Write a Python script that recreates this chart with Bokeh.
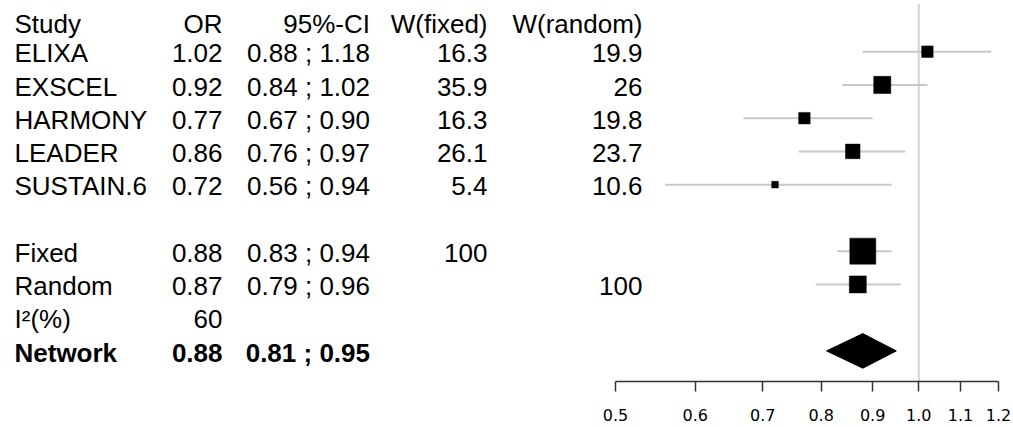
import math
from bokeh.plotting import figure
from bokeh.models import Range1d, FixedTicker, NumeralTickFormatter, Span
from bokeh.core.properties import value
from bokeh.embed import file_html
from bokeh.resources import INLINE

# ---------------- data ----------------
studies = ["ELIXA", "EXSCEL", "HARMONY", "LEADER", "SUSTAIN.6"]
study_or = [1.02, 0.92, 0.77, 0.86, 0.72]
study_lo = [0.88, 0.84, 0.67, 0.76, 0.56]
study_hi = [1.18, 1.02, 0.90, 0.97, 0.94]
w_fixed = [16.3, 35.9, 16.3, 26.1, 5.4]
w_random = [19.9, 26, 19.8, 23.7, 10.6]

pooled_labels = ["Fixed", "Random"]
pooled_or = [0.88, 0.87]
pooled_lo = [0.83, 0.79]
pooled_hi = [0.94, 0.96]
pooled_w_fixed = [100, None]
pooled_w_random = [None, 100]

i2_label = "I²(%)"
i2_value = 60

network_label = "Network"
network_or = 0.88
network_lo = 0.81
network_hi = 0.95

headers = ["Study", "OR", "95%-CI", "W(fixed)", "W(random)"]
x_ticks = [0.5, 0.6, 0.7, 0.8, 0.9, 1.0, 1.1, 1.2]

# ---------------- layout (page pixels) ----------------
PAGE_L, PAGE_T = 0, 0          # where the figure canvas starts on the page
FRAME_L, FRAME_R, AX_L = 0, 998, 615
FRAME_T, FRAME_B = 3, 381
ROW0, ROW_H = 17.9, 33.25
px_per_ln = (FRAME_R - AX_L) / math.log(x_ticks[-1] / x_ticks[0])
xmin = x_ticks[0] * math.exp(-(AX_L - FRAME_L) / px_per_ln)


def px2x(p):
    return xmin * math.exp((p - FRAME_L) / px_per_ln)


y_top = (FRAME_T - ROW0) / ROW_H
y_bot = (FRAME_B - ROW0) / ROW_H

COL_STUDY = px2x(14)
COL_OR = px2x(222)
COL_CI = px2x(369.5)
COL_WF = px2x(487)
COL_WR = px2x(642)

study_rows = [1, 2, 3, 4, 5]
pooled_rows = [7, 8]
i2_row = 9
network_row = 10

p = figure(
    frame_width=FRAME_R - FRAME_L, frame_height=FRAME_B - FRAME_T,
    min_border_left=FRAME_L - PAGE_L, min_border_right=14,
    min_border_top=FRAME_T - PAGE_T, min_border_bottom=43,
    x_axis_type="log", x_range=Range1d(xmin, x_ticks[-1]),
    y_range=Range1d(y_bot, y_top),
    output_backend="svg", toolbar_location=None, y_axis_location=None,
)
p.xgrid.visible = False
p.ygrid.visible = False
p.outline_line_color = None
p.background_fill_color = "white"
p.border_fill_color = "white"

ax = p.xaxis[0]
ax.bounds = (x_ticks[0], x_ticks[-1])
ax.ticker = FixedTicker(ticks=x_ticks)
ax.formatter = NumeralTickFormatter(format="0.0")
ax.axis_line_color = "#333333"
ax.axis_line_width = 1.5
ax.major_tick_line_color = "#333333"
ax.major_tick_line_width = 1.5
ax.major_tick_in = 0
ax.major_tick_out = 10
ax.minor_tick_line_color = None
ax.major_label_text_font = "DejaVu Sans"
ax.major_label_text_font_size = "16px"
ax.major_label_text_color = "black"
ax.major_label_standoff = 17

# reference line
ref = Span(location=1.0, dimension="height", line_color="#d3d3d3", line_width=2, level="underlay")
p.add_layout(ref)

# confidence intervals
p.segment(x0=study_lo + pooled_lo, y0=study_rows + pooled_rows,
          x1=study_hi + pooled_hi, y1=study_rows + pooled_rows,
          line_color="#c8c8c8", line_width=2)

# study squares (size from fixed weights)
study_sizes = [2.85 * math.sqrt(w) for w in w_fixed]
p.rect(x=study_or, y=study_rows, width=study_sizes, height=study_sizes,
       width_units="screen", height_units="screen",
       fill_color="black", line_color="black", line_width=0.5)

# pooled squares
pooled_sizes = [26, 17]
p.rect(x=pooled_or, y=pooled_rows, width=pooled_sizes, height=pooled_sizes,
       width_units="screen", height_units="screen",
       fill_color="black", line_color="black", line_width=0.5)

# network diamond
half_h = 0.52
p.patch(x=[network_lo, network_or, network_hi, network_or],
        y=[network_row, network_row - half_h, network_row, network_row + half_h],
        fill_color="black", line_color="black", line_width=1)

# ---------------- table text ----------------
def fmt(v):
    return "" if v is None else ("%g" % v)


left_x, left_y, left_t = [], [], []
right_x, right_y, right_t = [], [], []

HEADER_Y = 0.16
TEXT_DY = 0.05
left_x.append(COL_STUDY); left_y.append(HEADER_Y); left_t.append(headers[0])
for cx, h in zip([COL_OR, COL_CI, COL_WF, COL_WR], headers[1:]):
    right_x.append(cx); right_y.append(HEADER_Y); right_t.append(h)

for r, name, o, lo, hi, wf, wr in zip(study_rows, studies, study_or, study_lo, study_hi, w_fixed, w_random):
    left_x.append(COL_STUDY); left_y.append(r + TEXT_DY); left_t.append(name)
    right_x += [COL_OR, COL_CI, COL_WF, COL_WR]
    right_y += [r + TEXT_DY] * 4
    right_t += [f"{o:.2f}", f"{lo:.2f} ; {hi:.2f}", fmt(wf), fmt(wr)]

for r, name, o, lo, hi, wf, wr in zip(pooled_rows, pooled_labels, pooled_or, pooled_lo, pooled_hi,
                                      pooled_w_fixed, pooled_w_random):
    left_x.append(COL_STUDY); left_y.append(r + TEXT_DY); left_t.append(name)
    right_x += [COL_OR, COL_CI, COL_WF, COL_WR]
    right_y += [r + TEXT_DY] * 4
    right_t += [f"{o:.2f}", f"{lo:.2f} ; {hi:.2f}", fmt(wf), fmt(wr)]

left_x.append(COL_STUDY); left_y.append(i2_row + TEXT_DY); left_t.append(i2_label)
right_x.append(COL_OR); right_y.append(i2_row + TEXT_DY); right_t.append(str(i2_value))

FONT = value("Liberation Sans")
FS = "26px"
p.text(x=left_x, y=left_y, text=left_t, text_align="left", text_baseline="middle",
       text_font=FONT, text_font_size=FS, text_color="black")
p.text(x=right_x, y=right_y, text=right_t, text_align="right", text_baseline="middle",
       text_font=FONT, text_font_size=FS, text_color="black")

p.text(x=[COL_STUDY], y=[network_row + TEXT_DY], text=[network_label], text_align="left",
       text_baseline="middle",
       text_font=FONT, text_font_size=FS, text_font_style="bold", text_color="black")
p.text(x=[COL_OR, COL_CI], y=[network_row + TEXT_DY] * 2,
       text=[f"{network_or:.2f}", f"{network_lo:.2f} ; {network_hi:.2f}"],
       text_align="right", text_baseline="middle",
       text_font=FONT, text_font_size=FS, text_font_style="bold", text_color="black")

open("out.html", "w").write(file_html(p, INLINE))
